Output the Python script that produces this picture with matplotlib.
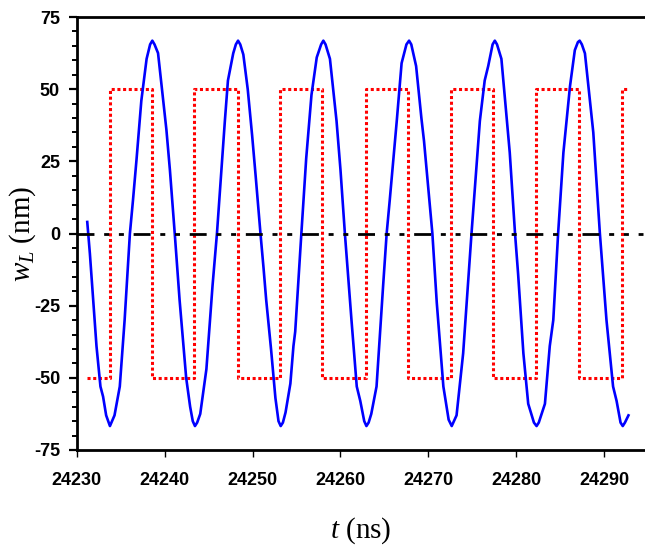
import matplotlib
matplotlib.use("Agg")
import matplotlib.pyplot as plt
from matplotlib.ticker import MultipleLocator

# blue curve w_L(t)
blue_t = [24231.2, 24231.5, 24231.9, 24232.25, 24232.7, 24233.0, 24233.35, 24233.78,
          24234.3, 24234.9, 24235.45, 24236.05, 24236.4, 24236.8, 24237.35, 24237.95,
          24238.35, 24238.6, 24238.85, 24239.25, 24239.7, 24240.2, 24240.6, 24241.15,
          24241.7, 24242.45, 24242.9, 24243.2, 24243.45, 24243.7, 24244.05, 24244.75,
          24245.45, 24245.95, 24246.85, 24247.2, 24247.8, 24248.1, 24248.35, 24248.6,
          24248.95, 24249.45, 24249.95, 24250.35, 24250.9, 24251.25, 24251.55, 24252.1,
          24252.6, 24252.95, 24253.2, 24253.45, 24253.75, 24254.3, 24254.65, 24254.85,
          24255.55, 24256.1, 24256.7, 24257.3, 24257.8, 24258.05, 24258.3, 24258.8,
          24259.55, 24260.0, 24260.5, 24261.25, 24261.85, 24262.25, 24262.7, 24262.95,
          24263.2, 24263.5, 24264.1, 24264.85, 24265.25, 24265.6, 24266.4, 24266.95,
          24267.5, 24267.8, 24268.05, 24268.6, 24269.2, 24269.5, 24270.45, 24270.95,
          24271.7, 24272.3, 24272.65, 24272.9, 24273.2, 24273.95, 24274.9, 24275.85,
          24276.4, 24276.8, 24277.3, 24277.55, 24277.8, 24278.3, 24279.25, 24279.85,
          24280.2, 24280.8, 24281.35, 24282.0, 24282.3, 24282.55, 24283.25, 24283.8,
          24284.2, 24284.75, 24285.35, 24286.1, 24286.65, 24287.0, 24287.2, 24287.45,
          24287.8, 24288.75, 24289.5, 24290.25, 24291.0, 24291.4, 24291.85, 24292.1,
          24292.35, 24292.75]
blue_w = [4, -7, -24, -39, -53, -56.5, -63, -66.7,
          -63, -53, -30, 0, 11.5, 25.5, 46, 60.5,
          65.5, 66.8, 65.5, 62.5, 50, 36, 22, 0,
          -23, -50, -60, -65, -66.7, -65.5, -62.5, -47,
          -18, 0, 39, 53, 62.4, 65.5, 66.8, 65.5,
          62, 50, 34, 20, 0, -12, -23, -40,
          -57, -65, -66.7, -65.5, -62, -52, -39, -34,
          0, 26, 48, 61, 65.5, 66.8, 65.5, 60.5,
          39, 22, 0, -30, -53, -58, -65, -66.7,
          -65.5, -62.5, -53, -18, 0, 11.5, 39, 59,
          65.5, 66.8, 65.5, 58, 40, 32, 0, -24,
          -53, -64.5, -66.7, -65, -63, -41.5, 0, 39,
          53, 58, 65.5, 66.8, 65.5, 60.5, 28, 0,
          -14, -41.5, -59, -65.5, -66.7, -65.5, -59, -39,
          -30, 0, 28, 51, 63.5, 66.3, 66.8, 65.5,
          62.4, 35, 0, -30, -53, -58, -65.5, -66.7,
          -65.5, -63]

# red square wave: switching times and levels
red_t = [24231.14, 24233.79, 24238.6, 24243.34, 24248.31, 24253.15, 24257.93,
         24262.87, 24267.71, 24272.53, 24277.38, 24282.24, 24287.09, 24291.98, 24292.81]
red_w = [-50, 50, -50, 50, -50, 50, -50, 50, -50, 50, -50, 50, -50, 50, 50]

# zero reference line
zero_t = [24230, 24294.4]
zero_w = [0, 0]

x_ticks = [24230, 24240, 24250, 24260, 24270, 24280, 24290]
y_ticks = [-75, -50, -25, 0, 25, 50, 75]

plt.rcParams['axes.unicode_minus'] = False
plt.rcParams['lines.scale_dashes'] = False
plt.rcParams['mathtext.fontset'] = 'custom'
plt.rcParams['mathtext.rm'] = 'Liberation Serif'
plt.rcParams['mathtext.it'] = 'Liberation Serif:italic'

fig = plt.figure(figsize=(6.45, 5.45), dpi=100)
ax = fig.add_axes([76.7 / 645, 95 / 545, 1 - 76.7 / 645, 433 / 545])

ax.plot(red_t, red_w, drawstyle='steps-post', color='#FF0000', lw=2.2,
        dashes=(2.2, 1.9), dash_capstyle='butt', zorder=2)
ax.plot(blue_t, blue_w, color='#0000FF', lw=1.9, zorder=3)
ax.plot(zero_t, zero_w, color='black', lw=2.0,
        dashes=(12.2, 7.0, 3.6, 7.0, 3.6, 7.0), zorder=4)

ax.set_xlim(24230, 24230 + (645 - 76.7) / 8.793)
ax.set_ylim(-75, 75)
ax.set_xticks(x_ticks)
ax.set_yticks(y_ticks)
ax.yaxis.set_minor_locator(MultipleLocator(5))

ax.spines['right'].set_visible(False)
for s in ['left', 'bottom', 'top']:
    ax.spines[s].set_linewidth(2.0)

ax.tick_params(axis='y', which='major', direction='out', length=6, width=1.6, pad=6)
ax.tick_params(axis='y', which='minor', direction='out', length=3.5, width=1.4)
ax.tick_params(axis='x', which='major', direction='out', length=5, width=1.0, pad=11)
ax.tick_params(right=False, top=False)

for lab in ax.get_xticklabels() + ax.get_yticklabels():
    lab.set_fontfamily('Liberation Sans')
    lab.set_fontweight('bold')
    lab.set_fontsize(13)

ax.set_ylabel(r'$w_L$ (nm)', fontfamily='Liberation Serif', fontsize=21)
ax.yaxis.set_label_coords(-0.068, 0.5)
ax.set_xlabel(r'$t$ (ns)', fontfamily='Liberation Serif', fontsize=21)
ax.xaxis.set_label_coords(0.5, -0.15)

fig.savefig("out.png", dpi=100)
